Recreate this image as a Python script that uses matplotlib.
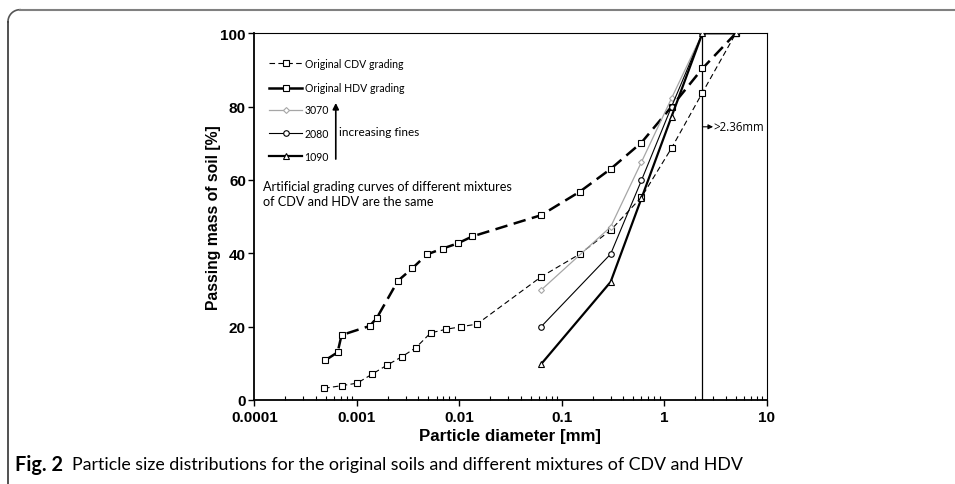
import numpy as np
import matplotlib
matplotlib.use("Agg")
import matplotlib.pyplot as plt
from matplotlib.lines import Line2D
from matplotlib.ticker import FuncFormatter, LogLocator

# ------------------------------------------------------------
# Data
# ------------------------------------------------------------
cdv_d = [0.00048, 0.00071, 0.00101, 0.00142, 0.00197, 0.00276, 0.00378, 0.00526,
         0.00747, 0.0105, 0.0149, 0.063, 0.15, 0.3, 0.6, 1.18, 2.36, 5.0]
cdv_p = [3.2, 3.9, 4.6, 7.1, 9.5, 11.8, 14.3, 18.3, 19.3, 20.0, 20.7, 33.6, 39.8,
         46.3, 55.3, 68.7, 83.8, 100]

hdv_d = [0.00049, 0.00065, 0.00071, 0.00134, 0.00157, 0.00252, 0.00348, 0.00484,
         0.00689, 0.00964, 0.0134, 0.063, 0.15, 0.3, 0.6, 1.18, 2.36, 5.0]
hdv_p = [10.8, 13.0, 17.7, 20.2, 22.4, 32.5, 35.9, 39.7, 41.3, 42.7, 44.6, 50.4,
         56.8, 63.0, 70.2, 80.0, 90.4, 100]

mix_d = [0.063, 0.3, 0.6, 1.18, 2.36, 5.0]
mix3070_p = [30.0, 47.2, 64.9, 82.3, 100, 100]
mix2080_p = [20.0, 39.8, 59.9, 80.0, 100, 100]
mix1090_p = [9.8, 32.2, 55.0, 77.3, 100, 100]

x_ticks = [0.0001, 0.001, 0.01, 0.1, 1, 10]
y_ticks = [0, 20, 40, 60, 80, 100]
cut_size = 2.36

# ------------------------------------------------------------
# Figure
# ------------------------------------------------------------
plt.rcParams["font.family"] = "Liberation Sans"
plt.rcParams["font.weight"] = "bold"

fig = plt.figure(figsize=(9.55, 4.85), dpi=100)
ax = fig.add_axes([0.2663, 0.1732, 0.5365, 0.7561])

grey = "#a6a6a6"
ax.plot(cdv_d, cdv_p, color="black", lw=0.8, dashes=(5, 3), marker="s", ms=4.2,
        mfc="white", mec="black", mew=0.8, zorder=3)
ax.plot(hdv_d, hdv_p, color="black", lw=1.8, dashes=(5, 2.6), marker="s", ms=4.2,
        mfc="white", mec="black", mew=0.8, zorder=3)
ax.plot(mix_d, mix3070_p, color=grey, lw=0.9, marker="D", ms=3,
        mfc="white", mec=grey, mew=0.8, zorder=4)
ax.plot(mix_d, mix2080_p, color="black", lw=0.8, marker="o", ms=4,
        mfc="white", mec="black", mew=0.8, zorder=4)
ax.plot(mix_d, mix1090_p, color="black", lw=1.6, marker="^", ms=4,
        mfc="white", mec="black", mew=0.8, zorder=4)

ax.axvline(cut_size, color="black", lw=0.9, zorder=2)
ax.annotate("", xy=(3.0, 74.5), xytext=(cut_size, 74.5),
            arrowprops=dict(arrowstyle="-|>", color="black", lw=0.8,
                            mutation_scale=7, shrinkA=0, shrinkB=0))
ax.text(3.0, 74.5, ">2.36mm", fontsize=8.3, family="Open Sans", weight="normal",
        va="center", ha="left")

ax.set_xscale("log")
ax.set_xlim(1e-4, 10)
ax.set_ylim(0, 100)
ax.set_xticks(x_ticks)
ax.xaxis.set_major_formatter(FuncFormatter(lambda v, p: "%g" % v))
ax.xaxis.set_minor_locator(LogLocator(base=10, subs=np.arange(2, 10)))
ax.set_yticks(y_ticks)

ax.tick_params(axis="x", which="major", direction="out", length=4, width=1, pad=3,
               labelsize=11)
ax.tick_params(axis="x", which="minor", direction="in", length=3, width=0.8)
ax.tick_params(axis="y", which="major", direction="out", length=4, width=1, pad=2,
               labelsize=11)

for s in ["left", "bottom"]:
    ax.spines[s].set_linewidth(1.3)
for s in ["top", "right"]:
    ax.spines[s].set_linewidth(0.8)

ax.set_xlabel("Particle diameter [mm]", weight="bold", size=12.2)
ax.set_ylabel("Passing mass of soil [%]", weight="bold", size=11.3)
ax.xaxis.set_label_coords(0.5, -0.077)
ax.yaxis.set_label_coords(-0.066, 0.5)

# ------------------------------------------------------------
# Hand-made legend
# ------------------------------------------------------------
leg_font = dict(family="Lato", size=7.6, weight="normal")
leg_items = [
    ("Original CDV grading", dict(color="black", lw=0.8, dashes=(5, 3), marker="s", ms=4.2,
                                  mfc="white", mec="black", mew=0.8)),
    ("Original HDV grading", dict(color="black", lw=1.8, marker="s", ms=4.2,
                                  mfc="white", mec="black", mew=0.8)),
    ("3070", dict(color=grey, lw=0.9, marker="D", ms=3, mfc="white", mec=grey, mew=0.8)),
    ("2080", dict(color="black", lw=0.8, marker="o", ms=4, mfc="white", mec="black", mew=0.8)),
    ("1090", dict(color="black", lw=1.6, marker="^", ms=4, mfc="white", mec="black", mew=0.8)),
]
leg_y = [0.918, 0.852, 0.791, 0.728, 0.665]
for (label, style), yy in zip(leg_items, leg_y):
    ln = Line2D([0.0287, 0.093], [yy, yy], transform=ax.transAxes, markevery=[], **style)
    ax.add_line(ln)
    ax.add_line(Line2D([0.061], [yy], transform=ax.transAxes, linestyle="none",
                       marker=style["marker"], ms=style["ms"], mfc="white",
                       mec=style["mec"], mew=0.8))
    ax.text(0.098, yy, label, transform=ax.transAxes, va="center", ha="left", **leg_font)

ax.annotate("", xy=(0.159, 0.810), xytext=(0.159, 0.657), xycoords="axes fraction",
            arrowprops=dict(arrowstyle="-|>", color="black", lw=1.2,
                            mutation_scale=9, shrinkA=0, shrinkB=0))
ax.text(0.166, 0.733, "increasing fines", transform=ax.transAxes, va="center", ha="left",
        family="Lato", size=8.5, weight="normal")
ax.text(0.0164, 0.563, "Artificial grading curves of different mixtures\nof CDV and HDV are the same",
        transform=ax.transAxes, va="center", ha="left", family="Lato", size=9.1,
        weight="normal", linespacing=1.25)

# ------------------------------------------------------------
# Caption (shrunk to the width of the condensed original) and frame
# ------------------------------------------------------------
cap_y = 1 - 465 / 485
fig_lbl = fig.text(15 / 955, cap_y, "Fig. 2", family="Lato", weight="bold", size=11.5,
                   va="center", ha="left")
cap = fig.text(72 / 955, cap_y,
               "Particle size distributions for the original soils and different mixtures of CDV and HDV",
               family="Lato", weight="normal", size=11.5, va="center", ha="left")
renderer = fig.canvas.get_renderer()
for t, target in [(fig_lbl, 48), (cap, 673)]:
    w = t.get_window_extent(renderer).width
    t.set_fontsize(t.get_fontsize() * target / w)

r = 12
ytop = 485 - 10.7
xl = 8
ang = np.linspace(np.pi / 2, np.pi, 20)
fig.add_artist(Line2D(xl + r + r * np.cos(ang), ytop - r + r * np.sin(ang), transform=None,
                      color="#555555", lw=1.2))
fig.add_artist(Line2D([xl + r, 960], [ytop, ytop], transform=None, color="#808080", lw=1.5))
fig.add_artist(Line2D([xl, xl], [ytop - r, -5], transform=None, color="#333333", lw=1.2))

fig.savefig("out.png", dpi=100)
